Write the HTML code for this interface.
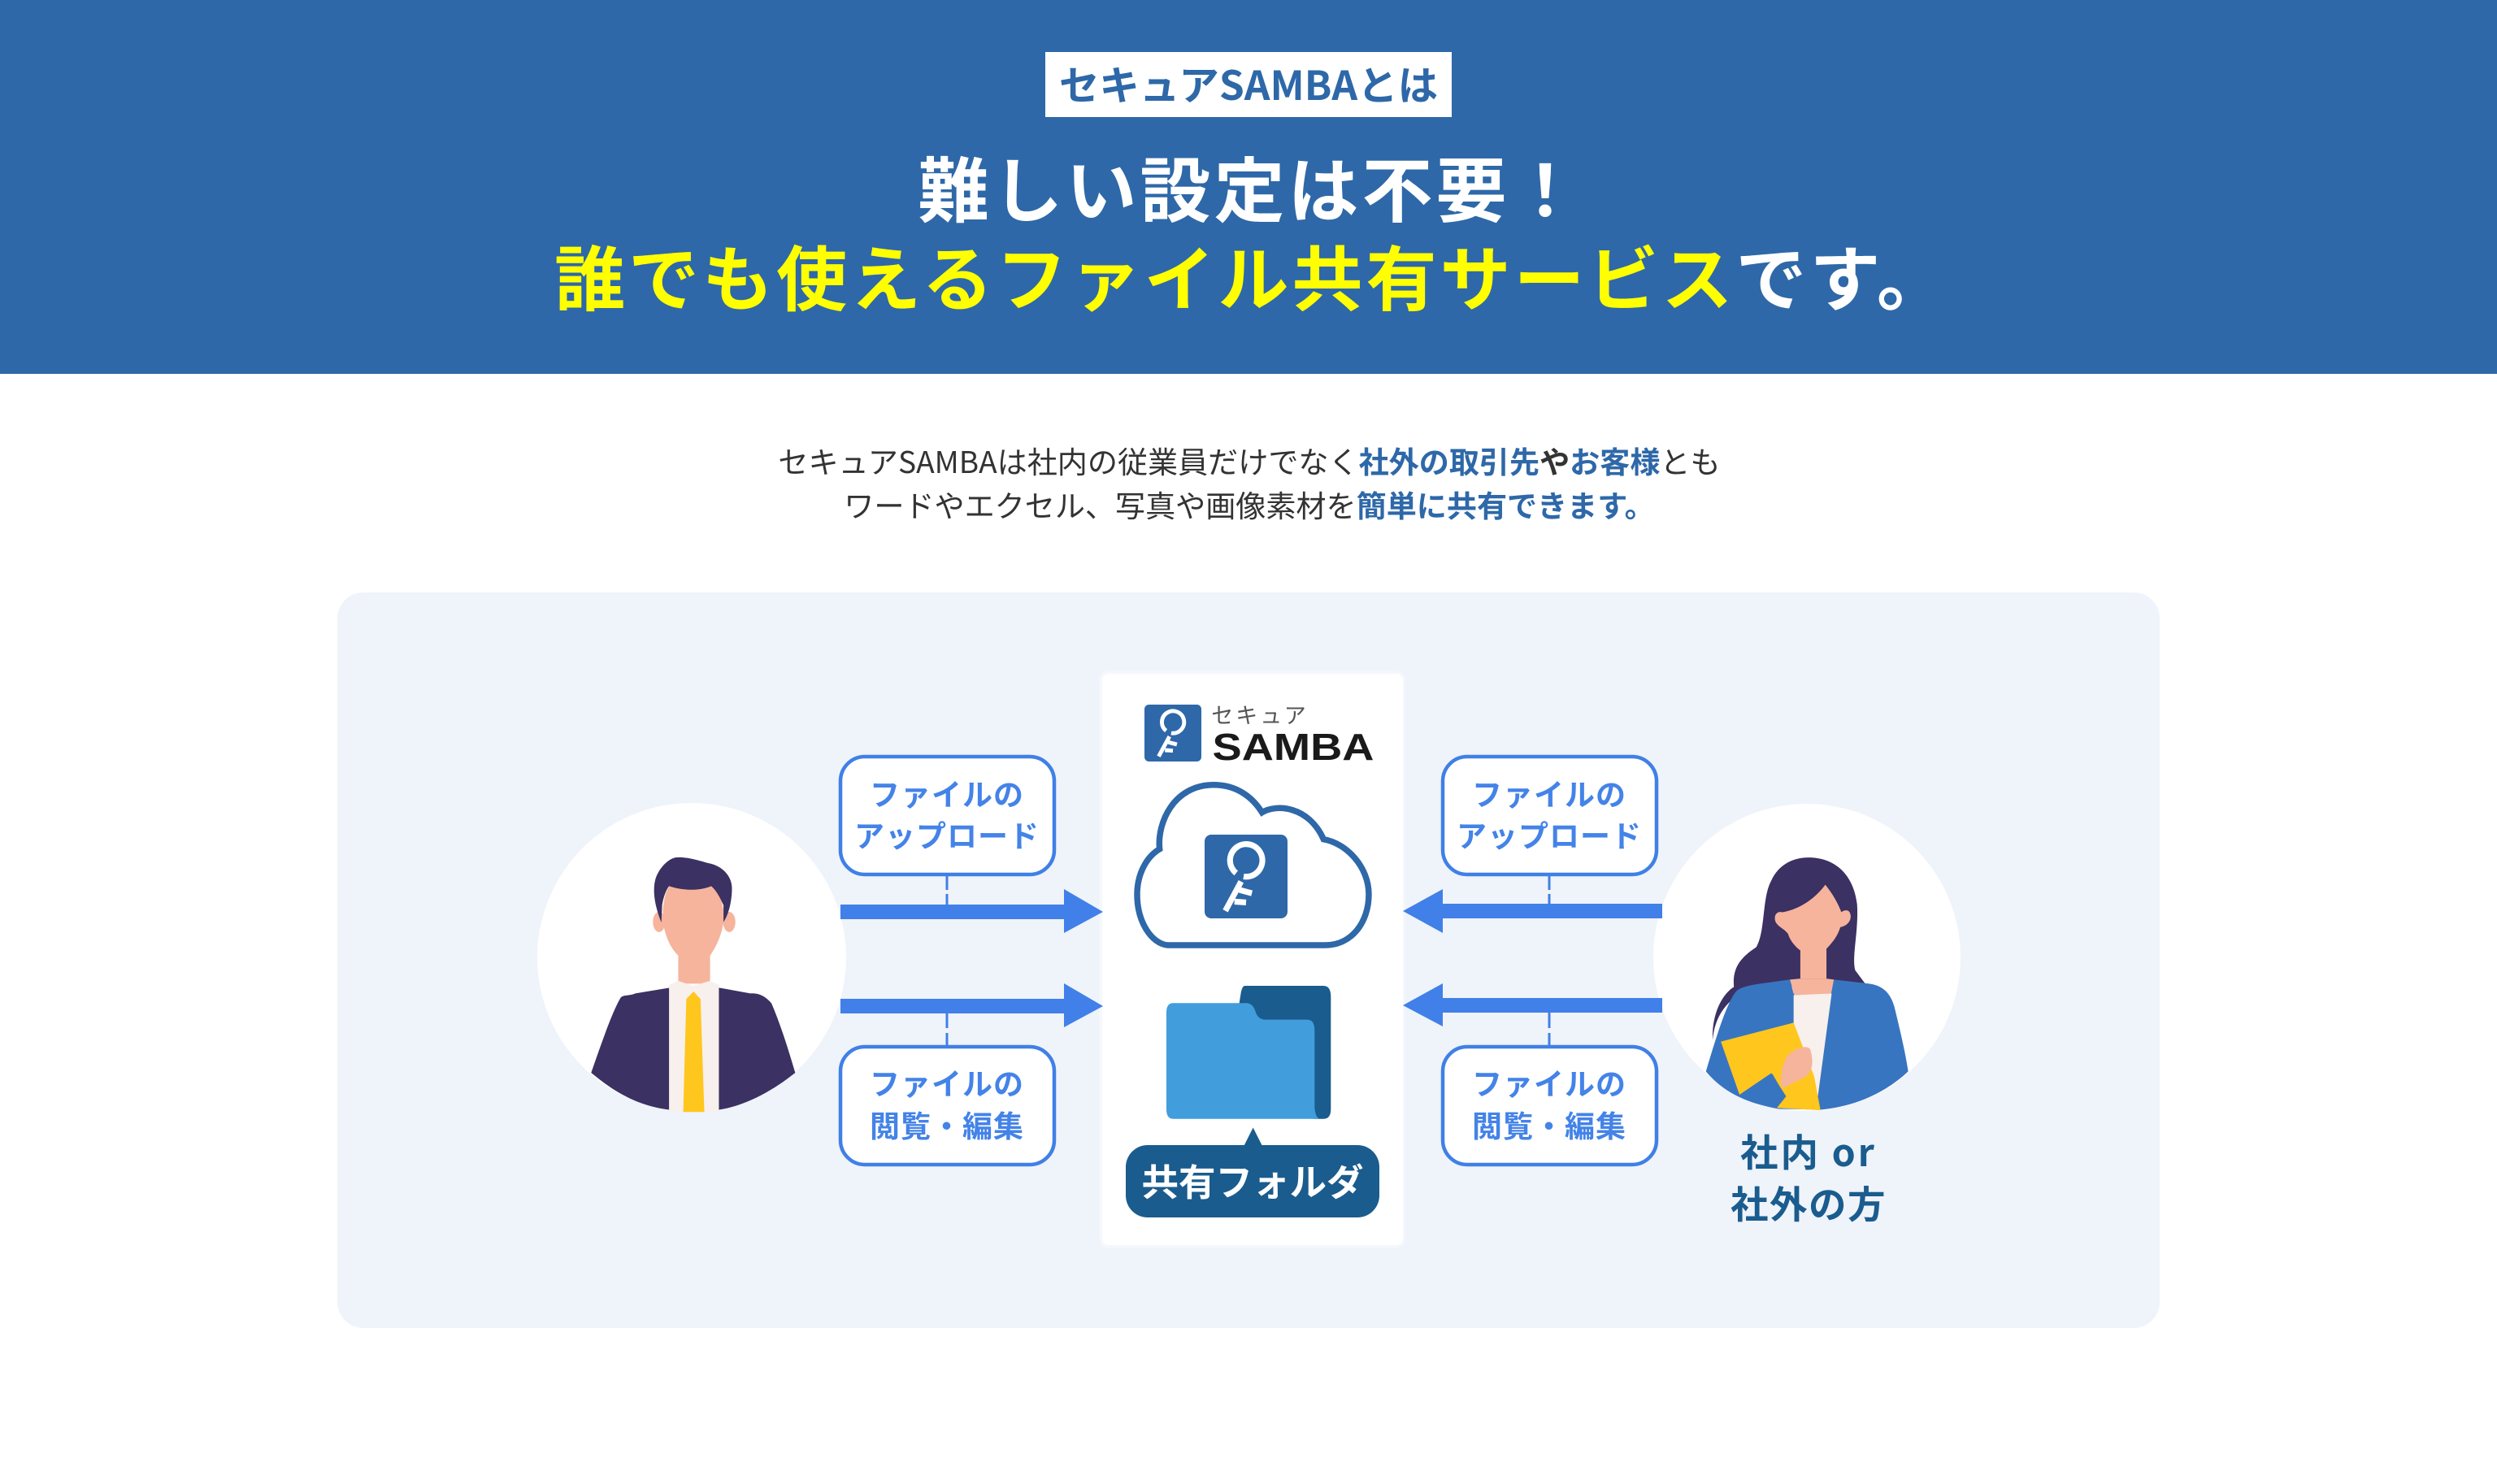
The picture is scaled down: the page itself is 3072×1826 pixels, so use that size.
<!DOCTYPE html>
<html lang="ja"><head><meta charset="utf-8"><title>セキュアSAMBAとは</title>
<style>
html,body{margin:0;padding:0;background:#fff;width:3072px;height:1826px;overflow:hidden}
svg{display:block}
text{font-family:"Liberation Sans","Noto Sans CJK JP",sans-serif;text-anchor:middle}
.j{font-family:"Noto Sans CJK JP","Liberation Sans",sans-serif}
.b{font-weight:700}
.box{fill:#fff;stroke:#4080e6;stroke-width:4.5}
.bt{font-family:"Noto Sans CJK JP",sans-serif;font-weight:700;font-size:37px;letter-spacing:1px;fill:#4483e8}
.dash{stroke:#4080e6;stroke-width:3}
.arrow{fill:#4080e8}
</style></head><body>
<svg xmlns="http://www.w3.org/2000/svg" width="3072" height="1826" viewBox="0 0 3072 1826">
<defs>
<g id="key">
<rect x="0" y="0" width="100" height="100" rx="8" fill="#2e68a8"/>
<path d="M38 46 A19.5 19.5 0 1 1 47 50" fill="none" stroke="#fff" stroke-width="7"/>
<path d="M44 56 L25 91 M42 66 L57 70 M36 80 L50 81" fill="none" stroke="#fff" stroke-width="7"/>
</g>
</defs>
<rect width="3072" height="1826" fill="#fff"/>
<rect width="3072" height="460" fill="#2e68a8"/>
<rect x="1286" y="64" width="500" height="80" fill="#fff"/>
<text class="j b" x="1536" y="123" font-size="49.5" fill="#2e68a8">セキュアSAMBAとは</text>
<text class="j b" x="1539" y="266" font-size="87" letter-spacing="4" fill="#fff">難しい設定は不要！</text>
<text class="j b" x="1541" y="375" font-size="87" letter-spacing="4" fill="#ffff00">誰でも使えるファイル共有サービス<tspan fill="#fff">です。</tspan></text>
<text class="j" x="1537" y="582" font-size="37.1" fill="#333">セキュアSAMBAは社内の従業員だけでなく<tspan class="b" fill="#2e68a8">社外の取引先</tspan><tspan class="b" fill="#333">や</tspan><tspan class="b" fill="#2e68a8">お客様</tspan>とも</text>
<text class="j" x="1537" y="636" font-size="37.1" fill="#333">ワードやエクセル、写真や画像素材を<tspan class="b" fill="#2e68a8">簡単に共有できます。</tspan></text>

<rect x="415" y="729" width="2242" height="905" rx="32" fill="#eff3fa"/>

<circle cx="851" cy="1178" r="190" fill="#fff"/>
<circle cx="2223" cy="1178" r="189" fill="#fff"/>

<!-- center card -->
<rect x="1352" y="825" width="377" height="711" rx="12" fill="#f4f7fc"/>
<rect x="1356" y="829" width="370" height="703" rx="8" fill="#fff"/>

<!-- left arrows -->
<rect x="1034" y="1113" width="280" height="18" class="arrow"/>
<polygon points="1309,1094 1357,1122 1309,1148" class="arrow"/>
<rect x="1034" y="1229" width="280" height="18" class="arrow"/>
<polygon points="1309,1210 1357,1238 1309,1264" class="arrow"/>
<!-- right arrows -->
<rect x="1770" y="1112" width="275" height="18" class="arrow"/>
<polygon points="1775,1094 1726,1121 1775,1148" class="arrow"/>
<rect x="1770" y="1228" width="275" height="18" class="arrow"/>
<polygon points="1775,1210 1726,1237 1775,1263" class="arrow"/>

<!-- dashed -->
<path class="dash" d="M1165 1076V1095M1165 1100V1113M1165 1247V1265M1165 1271V1287"/>
<path class="dash" d="M1906 1076V1095M1906 1100V1112M1906 1246V1265M1906 1271V1287"/>

<!-- boxes -->
<rect class="box" x="1034" y="931" width="263" height="145" rx="30"/>
<rect class="box" x="1034" y="1288" width="263" height="145" rx="30"/>
<rect class="box" x="1775" y="931" width="263" height="145" rx="30"/>
<rect class="box" x="1775" y="1288" width="263" height="145" rx="30"/>
<text class="bt" x="1165" y="991">ファイルの</text>
<text class="bt" x="1165" y="1042">アップロード</text>
<text class="bt" x="1165" y="1347">ファイルの</text>
<text class="bt" x="1165" y="1399">閲覧・編集</text>
<text class="bt" x="1906" y="991">ファイルの</text>
<text class="bt" x="1906" y="1042">アップロード</text>
<text class="bt" x="1906" y="1347">ファイルの</text>
<text class="bt" x="1906" y="1399">閲覧・編集</text>

<!-- man -->
<g transform="translate(640,900) scale(.4719,.3448)">
<ellipse cx="362" cy="680" rx="16" ry="36" fill="#f6b49c"/>
<ellipse cx="545" cy="680" rx="16" ry="36" fill="#f6b49c"/>
<path d="M372 640 C375 580 385 555 395 545 L510 550 C525 590 533 640 530 680 C525 730 510 770 495 800 L495 900 L412 900 L412 800 C390 770 378 730 372 680 Z" fill="#f6b49c"/>
<path d="M368 682 C350 620 345 570 352 530 C360 490 385 455 405 450 C430 445 470 462 490 470 C530 480 552 520 552 560 C552 600 545 650 530 680 L530 620 C520 590 510 565 498 552 C470 568 430 570 388 552 C378 570 372 600 370 620 Z" fill="#3b3162"/>
<path d="M185 1218 C210 1120 240 1000 262 950 C270 938 285 945 300 935 L388 915 L520 915 L600 935 C620 932 640 945 655 970 C680 1050 700 1140 717 1218 C660 1280 590 1335 518 1350 L388 1350 C300 1335 240 1280 185 1218 Z" fill="#3b3162"/>
<path d="M388 905 L412 890 L450 908 L495 890 L518 905 L518 1358 L388 1358 Z" fill="#f7f0ec"/>
<path d="M452 928 L470 955 L480 1358 L425 1358 L433 955 Z" fill="#ffc61e"/>
</g>

<!-- woman -->
<g transform="translate(1720,900) scale(.4591,.4082)">
<path d="M1100 380 C1170 380 1220 430 1230 520 C1235 600 1215 680 1225 720 L1255 765 L960 770 C900 790 850 840 843 930 C840 850 870 790 900 770 C895 710 920 680 960 650 C985 600 975 500 1000 450 C1020 400 1060 380 1100 380Z" fill="#3b3162"/>
<path d="M1145 462 C1120 500 1080 535 1030 545 C1015 540 1005 555 1012 575 C1020 590 1035 595 1045 610 C1050 630 1065 650 1078 660 L1078 745 L1148 745 L1148 655 C1170 630 1180 610 1185 590 C1210 585 1218 560 1210 545 C1205 535 1192 540 1188 545 C1180 520 1165 490 1145 462 Z" fill="#f6b49c"/>
<path d="M825 1025 C850 930 880 820 905 785 C920 765 960 762 1050 748 L1060 790 L1160 790 L1168 748 L1260 760 C1300 765 1320 790 1330 830 C1345 900 1360 970 1367 1025 C1310 1085 1230 1130 1135 1140 L1020 1138 C930 1120 870 1085 825 1025Z" fill="#3875c0"/>
<path d="M1050 748 L1078 745 L1148 745 L1168 748 L1160 792 L1062 795 Z" fill="#f6b49c"/>
<path d="M1060 795 L1162 790 L1125 1100 L1060 1000 Z" fill="#f7f0ec"/>
<path d="M865 935 L1060 878 L1115 1040 L1132 1142 L1015 1135 L1040 1100 L1000 1030 L915 1095 Z" fill="#ffc61e"/>
<path d="M915 1095 L1003 1032 L1037 1098 L1010 1135 C975 1125 940 1110 915 1095 Z" fill="#3875c0"/>
<path d="M1030 1075 C1020 1050 1030 1000 1045 975 C1070 950 1100 945 1105 960 C1115 1000 1110 1030 1085 1045 Z" fill="#f6b49c"/>
</g>
<text class="j b" x="2225" y="1435" font-size="46.5" letter-spacing="3" fill="#1a5c8e">社内 or</text>
<text class="j b" x="2225" y="1499" font-size="46.5" letter-spacing="1.5" fill="#1a5c8e">社外の方</text>

<use href="#key" transform="translate(1408,867) scale(.7)"/>
<text class="j" x="1550" y="890" font-size="27" letter-spacing="3" fill="#555">セキュア</text>
<text x="1591" y="935" font-size="46" font-weight="700" fill="#1a1a1a" textLength="199" lengthAdjust="spacingAndGlyphs">SAMBA</text>
<g transform="translate(1330,800) scale(.3333,.4847)">
<path d="M350 749 L320 749 C260 745 207 690 207 620 C207 570 240 525 290 505 C280 440 340 342 490 342 C570 342 630 370 668 412 C720 390 840 395 895 480 C980 490 1062 550 1062 620 C1062 690 1000 749 900 749 Z" fill="#fff" stroke="#2e68a8" stroke-width="7.5" vector-effect="non-scaling-stroke"/>
<path d="M605 852 L895 852 Q922 852 922 880 L922 1165 Q922 1190 895 1190 L860 1190 L560 1000 L590 870 Q595 852 605 852 Z" fill="#1a5c8e"/>
<path d="M340 896 L610 896 Q635 896 645 920 Q655 938 680 938 L835 938 Q862 938 862 965 L862 1160 Q865 1190 885 1190 L340 1190 Q315 1190 315 1165 L315 920 Q315 896 340 896 Z" fill="#419ddc"/>
<path d="M635 1212 L600 1260 L670 1260 Z" fill="#1a5c8e"/>
</g>
<use href="#key" transform="translate(1482,1027) scale(1.02,1.03)"/>
<rect x="1385" y="1409" width="312" height="89" rx="27" fill="#1a5c8e"/>
<text class="j b" x="1541" y="1471" font-size="45.5" fill="#fff">共有フォルダ</text>
</svg>
</body></html>
